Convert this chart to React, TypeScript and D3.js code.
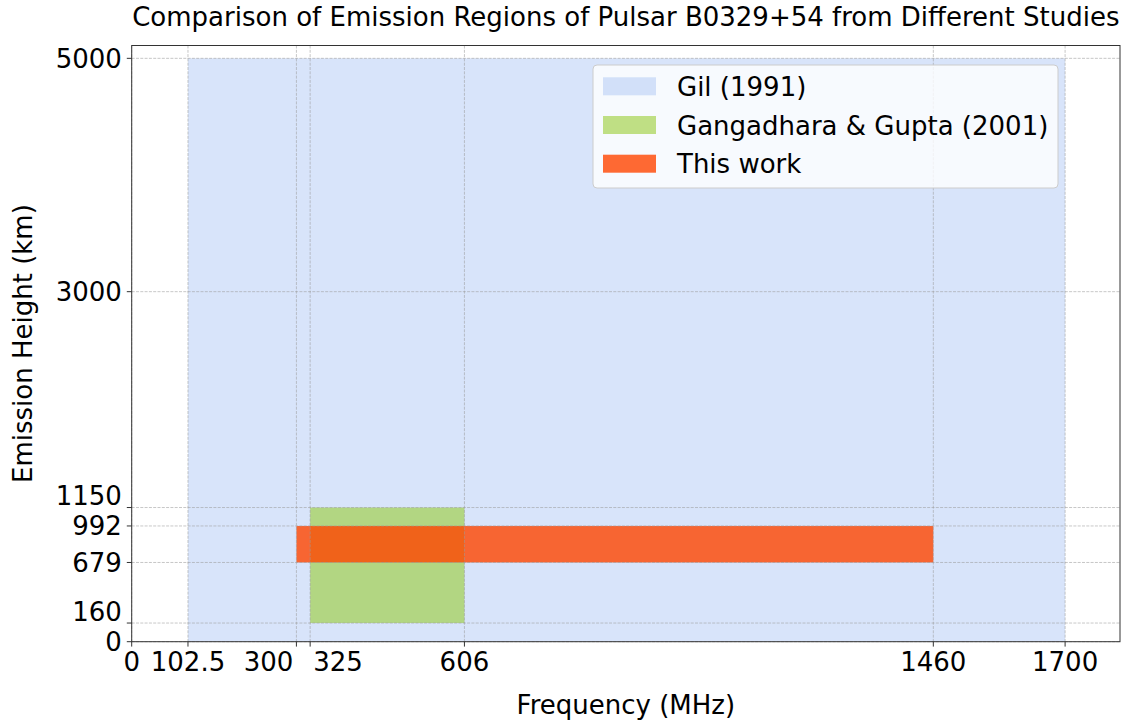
import React from "react";
import * as d3 from "d3";

const studies = ["Gil (1991)", "Gangadhara & Gupta (2001)", "This work"];
const freqLow = [102.5, 325, 300];
const freqHigh = [1700, 606, 1460];
const heightLow = [0, 160, 679];
const heightHigh = [5000, 1150, 992];
const xTicks = [0, 102.5, 300, 325, 606, 1460, 1700];
const yTicks = [0, 160, 679, 992, 1150, 3000, 5000];

const colors = ["cornflowerblue", "yellowgreen", "orangered"];
const alphas = [0.25, 0.6, 0.8];

// label placement tweaks (style only)
const xLabelAnchor: Record<string, { anchor: string; dx: number }> = {
  "300": { anchor: "end", dx: -3 },
  "325": { anchor: "start", dx: 3 },
};
const yLabelShift: Record<string, number> = { "1150": -12, "160": -12 };

const W = 1127;
const H = 723;
const left = 131.7;
const right = 1120;
const top = 45.5;
const bottom = 641.7;
const font = "DejaVu Sans, sans-serif";

export default function App() {
  const x = d3.scaleLinear().domain([0, 1800]).range([left, right]);
  const y = d3.scaleLinear().domain([0, 5110]).range([bottom, top]);
  const fs = 26;
  const axisColor = "#333";

  return (
    <svg
      width={W}
      height={H}
      style={{ position: "absolute", left: 0, top: 0, background: "#fff" }}
      fontFamily={font}
    >
      <rect x={0} y={0} width={W} height={H} fill="#fff" />
      {studies.map((s, i) => (
        <rect
          key={s}
          x={x(freqLow[i])}
          y={y(heightHigh[i])}
          width={x(freqHigh[i]) - x(freqLow[i])}
          height={y(heightLow[i]) - y(heightHigh[i])}
          fill={colors[i]}
          fillOpacity={alphas[i]}
        />
      ))}
      {/* grid */}
      <g stroke="#9a9a9a" strokeOpacity={0.7} strokeWidth={0.8} strokeDasharray="3,1.3">
        {xTicks.map((t) => (
          <line key={"gx" + t} x1={x(t)} x2={x(t)} y1={top} y2={bottom} />
        ))}
        {yTicks.map((t) => (
          <line key={"gy" + t} x1={left} x2={right} y1={y(t)} y2={y(t)} />
        ))}
      </g>
      {/* spines */}
      <rect
        x={left}
        y={top}
        width={right - left}
        height={bottom - top}
        fill="none"
        stroke={axisColor}
        strokeWidth={1}
      />
      {/* x ticks */}
      {xTicks.map((t) => {
        const a = xLabelAnchor[String(t)] || { anchor: "middle", dx: 0 };
        return (
          <g key={"xt" + t}>
            <line x1={x(t)} x2={x(t)} y1={bottom} y2={bottom + 4.9} stroke={axisColor} strokeWidth={1} />
            <text
              x={x(t) + a.dx}
              y={bottom + 9.8 + 19}
              fontSize={fs}
              textAnchor={a.anchor}
              fill="#000"
            >
              {String(t)}
            </text>
          </g>
        );
      })}
      {/* y ticks */}
      {yTicks.map((t) => (
        <g key={"yt" + t}>
          <line x1={left - 4.9} x2={left} y1={y(t)} y2={y(t)} stroke={axisColor} strokeWidth={1} />
          <text
            x={left - 9.8}
            y={y(t) + 9.5 + (yLabelShift[String(t)] || 0)}
            fontSize={fs}
            textAnchor="end"
            fill="#000"
          >
            {String(t)}
          </text>
        </g>
      ))}
      {/* axis labels */}
      <text x={(left + right) / 2} y={714} fontSize={fs} textAnchor="middle" fill="#000">
        Frequency (MHz)
      </text>
      <text
        transform={`translate(${32},${(top + bottom) / 2}) rotate(-90)`}
        fontSize={fs}
        textAnchor="middle"
        fill="#000"
      >
        Emission Height (km)
      </text>
      {/* title */}
      <text x={(left + right) / 2} y={26} fontSize={fs} textAnchor="middle" fill="#000">
        Comparison of Emission Regions of Pulsar B0329+54 from Different Studies
      </text>
      {/* legend */}
      <g>
        <rect x={593} y={65} width={465} height={123} rx={4} fill="#fff" fillOpacity={0.8} stroke="#cccccc" strokeWidth={1} />
        {studies.map((s, i) => {
          const cy = 86.3 + i * 38.7;
          return (
            <g key={"lg" + s}>
              <rect x={603} y={cy - 9} width={53} height={18} fill={colors[i]} fillOpacity={alphas[i]} />
              <text x={677} y={cy + 9.5} fontSize={fs} fill="#000">
                {s}
              </text>
            </g>
          );
        })}
      </g>
    </svg>
  );
}
